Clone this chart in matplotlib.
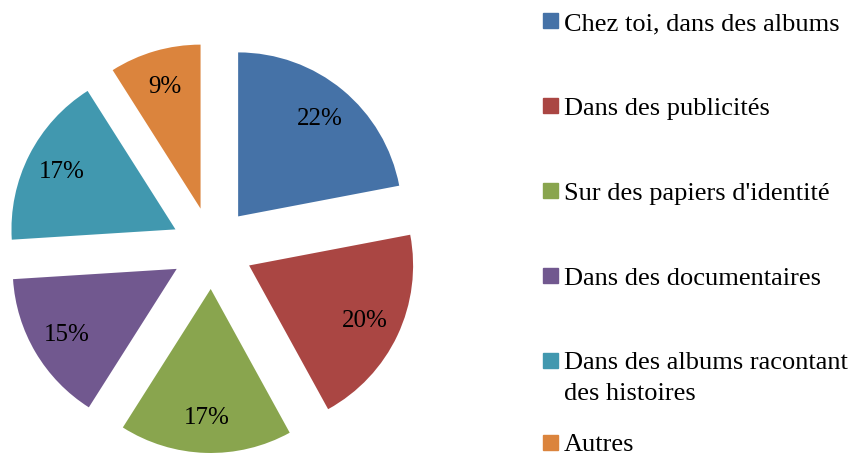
import matplotlib.pyplot as plt
from matplotlib.patches import Rectangle

categories = ['Chez toi, dans des albums', 'Dans des publicités', "Sur des papiers d'identité",
              'Dans des documentaires', 'Dans des albums racontant\ndes histoires', 'Autres']
values = [22, 20, 17, 15, 17, 9]
colors = ['#4572A7', '#AA4643', '#89A54E', '#71588F', '#4198AF', '#DB843D']

plt.rcParams['font.family'] = ['Liberation Serif', 'DejaVu Serif']

W, H = 855, 456
fig = plt.figure(figsize=(W / 100, H / 100), dpi=100)

# pie: centre at (212, 249) px from top-left, radius 164 px
r_px = 164
half = 205
ax = fig.add_axes([(212 - half) / W, (H - 249 - half) / H, 2 * half / W, 2 * half / H])
ax.pie(values, colors=colors, startangle=90, counterclock=False,
       explode=[0.25] * len(values), autopct='%1.0f%%', pctdistance=0.78,
       textprops={'fontsize': 18, 'color': 'black'})
lim = half / r_px
ax.set_xlim(-lim, lim)
ax.set_ylim(-lim, lim)
ax.set_aspect('equal')
ax.axis('off')

# legend drawn by hand: handle aligned with the first line of each entry
row_y = [21.5, 106.5, 191.5, 276.5, 361, 443]
for lab, col, y in zip(categories, colors, row_y):
    fig.patches.append(Rectangle((543 / W, (H - y - 7.5) / H), 15 / W, 15 / H,
                                 transform=fig.transFigure, color=col))
    for j, line in enumerate(lab.split('\n')):
        fig.text(564 / W, (H - y - 8.5 - j * 31) / H, line, fontsize=19,
                 va='baseline', ha='left')

fig.savefig('out.png', dpi=100)
